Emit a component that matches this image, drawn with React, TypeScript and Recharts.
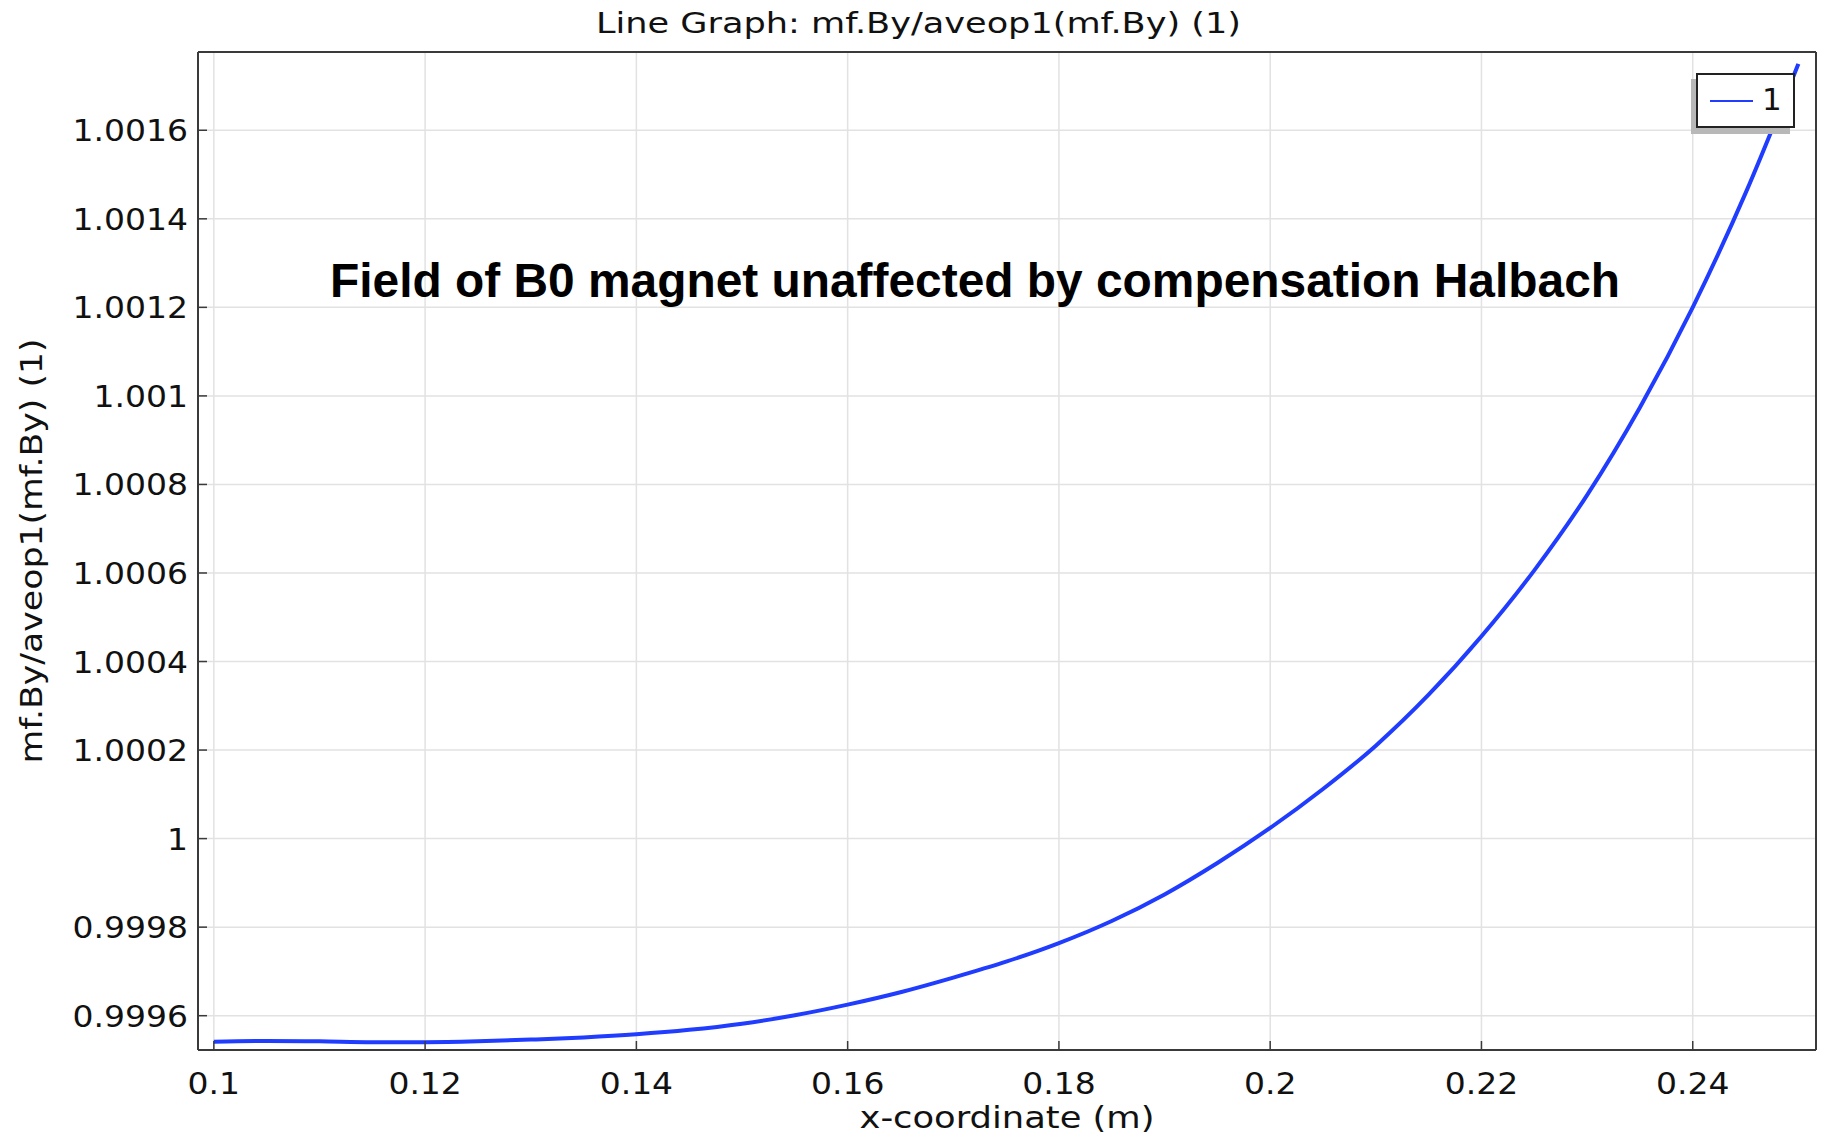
import { LineChart, Line, XAxis, YAxis, CartesianGrid, Legend, Label } from 'recharts'

// x-coordinate (m), sampled every 5 mm
const xCoord = [
  0.1, 0.105, 0.11, 0.115, 0.12, 0.125, 0.13, 0.135, 0.14, 0.145, 0.15, 0.155, 0.16, 0.165, 0.17, 0.175,
  0.18, 0.185, 0.19, 0.195, 0.2, 0.205, 0.21, 0.215, 0.22, 0.225, 0.23, 0.235, 0.24, 0.245, 0.25,
]
// mf.By/aveop1(mf.By)
const byRatio = [
  0.999541, 0.999543, 0.999542, 0.99954, 0.99954, 0.999542, 0.999546, 0.999551, 0.999558, 0.999568,
  0.999582, 0.999601, 0.999625, 0.999653, 0.999686, 0.999722, 0.999764, 0.999814, 0.999874, 0.999945,
  1.000024, 1.000112, 1.00021, 1.000325, 1.000457, 1.000606, 1.000776, 1.000974, 1.0012, 1.001458, 1.00175,
]

const xTicks = [0.1, 0.12, 0.14, 0.16, 0.18, 0.2, 0.22, 0.24]
const xTickLabels = ['0.1', '0.12', '0.14', '0.16', '0.18', '0.2', '0.22', '0.24']
const yTicks = [0.9996, 0.9998, 1, 1.0002, 1.0004, 1.0006, 1.0008, 1.001, 1.0012, 1.0014, 1.0016]
const yTickLabels = ['0.9996', '0.9998', '1', '1.0002', '1.0004', '1.0006', '1.0008', '1.001', '1.0012', '1.0014', '1.0016']

const xDomain = [0.0985, 0.25167]
const yDomain = [0.9995225, 1.0017768]

const data = xCoord.map((x, i) => ({ x, v: byRatio[i] }))

const FONT = '"DejaVu Sans", sans-serif'
const LINE_BLUE = '#1f3cff'
const FRAME = '#3a3a3a'

function XTick(props: any) {
  const { x, y, index } = props
  return (
    <g transform={`translate(${x},${y + 44}) scale(1.1,1)`}>
      <text x={0} y={0} textAnchor="middle" fontSize={30} fontFamily={FONT} fill="#111">
        {xTickLabels[index]}
      </text>
    </g>
  )
}

function YTick(props: any) {
  const { x, y, index } = props
  return (
    <g transform={`translate(${x - 10},${y + 11}) scale(1.1,1)`}>
      <text x={0} y={0} textAnchor="end" fontSize={30} fontFamily={FONT} fill="#111">
        {yTickLabels[index]}
      </text>
    </g>
  )
}

function LegendBox(props: any) {
  const item = props.payload?.[0]
  return (
    <div
      style={{
        boxSizing: 'border-box',
        width: 99,
        height: 55,
        border: '2px solid #222',
        background: '#fff',
        boxShadow: '-5px 6px 0 #b8b8b8',
        position: 'relative',
        fontFamily: FONT,
      }}
    >
      <div style={{ position: 'absolute', left: 12, top: 25, width: 43, height: 2, background: item?.color ?? LINE_BLUE }} />
      <div style={{ position: 'absolute', left: 64, top: 4, fontSize: 31, lineHeight: '40px', color: '#111' }}>
        {item?.value ?? '1'}
      </div>
    </div>
  )
}

export default function App() {
  return (
    <div style={{ position: 'absolute', left: 0, top: 0, width: 1826, height: 1137, background: '#fff' }}>
      <LineChart width={1826} height={1137} data={data} margin={{ top: 51, right: 9, bottom: 0, left: 0 }}>
        <CartesianGrid stroke="#e2e2e2" strokeWidth={1.5} />
        <XAxis
          dataKey="x"
          type="number"
          domain={xDomain}
          allowDataOverflow
          ticks={xTicks}
          height={87}
          axisLine={{ stroke: FRAME, strokeWidth: 2 }}
          tickLine={{ stroke: FRAME, strokeWidth: 1.5 }}
          tickSize={-9}
          tickMargin={9}
          tick={<XTick />}
        >
          <Label
            content={(p: any) => {
              const vb = p.viewBox
              return (
                <text
                  x={vb.x + vb.width / 2}
                  y={vb.y + 78}
                  textAnchor="middle"
                  fontSize={30}
                  fontFamily={FONT}
                  fill="#111"
                  textLength={295}
                  lengthAdjust="spacingAndGlyphs"
                >
                  x-coordinate (m)
                </text>
              )
            }}
          />
        </XAxis>
        <XAxis
          xAxisId="top"
          orientation="top"
          type="number"
          domain={xDomain}
          allowDataOverflow
          ticks={xTicks}
          height={1}
          axisLine={{ stroke: FRAME, strokeWidth: 2 }}
          tickLine={{ stroke: FRAME, strokeWidth: 1.5 }}
          tickSize={-9}
          tick={false}
        />
        <YAxis
          type="number"
          domain={yDomain}
          allowDataOverflow
          ticks={yTicks}
          width={198}
          axisLine={{ stroke: FRAME, strokeWidth: 2 }}
          tickLine={{ stroke: FRAME, strokeWidth: 1.5 }}
          tickSize={-9}
          tickMargin={9}
          tick={<YTick />}
        >
          <Label
            content={(p: any) => {
              const vb = p.viewBox
              const cx = vb.x + 42
              const cy = vb.y + vb.height / 2
              return (
                <text
                  x={cx}
                  y={cy}
                  transform={`rotate(-90 ${cx} ${cy})`}
                  textAnchor="middle"
                  fontSize={30}
                  fontFamily={FONT}
                  fill="#111"
                  textLength={425}
                  lengthAdjust="spacingAndGlyphs"
                >
                  mf.By/aveop1(mf.By) (1)
                </text>
              )
            }}
          />
        </YAxis>
        <YAxis
          yAxisId="right"
          orientation="right"
          type="number"
          domain={yDomain}
          allowDataOverflow
          ticks={yTicks}
          width={1}
          axisLine={{ stroke: FRAME, strokeWidth: 2 }}
          tickLine={{ stroke: FRAME, strokeWidth: 1.5 }}
          tickSize={-9}
          tick={false}
        />
        <Legend
          layout="horizontal"
          verticalAlign="middle"
          align="center"
          wrapperStyle={{ left: 1696, top: 73, width: 99, height: 55 }}
          content={(p: any) => <LegendBox payload={p.payload} />}
        />
        <Line
          type="monotone"
          dataKey="v"
          name="1"
          stroke={LINE_BLUE}
          strokeWidth={4}
          dot={false}
          isAnimationActive={false}
        />
      </LineChart>
      <svg
        width={1826}
        height={1137}
        style={{ position: 'absolute', left: 0, top: 0, pointerEvents: 'none' }}
      >
        <text
          x={918.5}
          y={33}
          textAnchor="middle"
          fontSize={28}
          fontFamily={FONT}
          fill="#111"
          textLength={645}
          lengthAdjust="spacingAndGlyphs"
        >
          Line Graph: mf.By/aveop1(mf.By) (1)
        </text>
        <text
          x={330}
          y={297}
          fontSize={48}
          fontWeight="bold"
          fontFamily='"Liberation Sans", Arial, sans-serif'
          fill="#000"
          textLength={1290}
          lengthAdjust="spacingAndGlyphs"
        >
          Field of B0 magnet unaffected by compensation Halbach
        </text>
      </svg>
    </div>
  )
}
